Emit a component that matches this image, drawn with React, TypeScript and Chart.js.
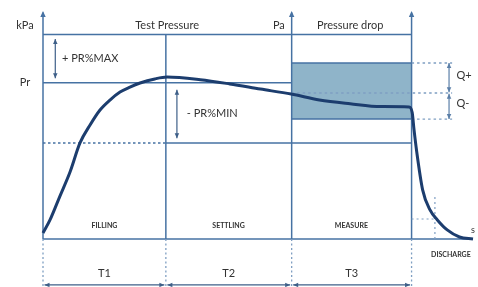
import React, { useEffect, useRef } from "react";
import { Chart, registerables } from "chart.js";

Chart.register(...registerables);

// Time axis (phase boundaries) and pressure levels
const phaseBounds = [0, 10, 20.24, 30, 35];
const phaseNames = ["FILLING", "SETTLING", "MEASURE", "DISCHARGE"];
const phaseTimes = ["T1", "T2", "T3"];
const maxLevel = 131; // Pr + PR%MAX
const prLevel = 100; // Pr
const minLevel = 61.5; // Pr - PR%MIN
const boxTop = 112.7; // Q+
const boxMid = 93.5;
const boxBottom = 76.8; // Q-

// Pressure curve
const curveTime = [0, 0.57, 1.38, 2.2, 3.01, 3.83, 4.64, 5.45, 6.27, 7.08, 7.9, 9.1, 10.1, 12.8, 15.2, 17.7, 20.2, 22.5, 25, 27.5, 29.8, 30.05, 30.2, 30.4, 30.9, 31.5, 32.1, 32.9, 33.9, 35];
const curvePressure = [3.8, 12.2, 27.5, 42.9, 61.5, 73, 82.6, 89, 94.1, 97.3, 99.9, 102.5, 103.7, 102, 99.3, 96, 92.8, 89, 86.6, 84.8, 84.6, 81, 70, 57, 31.5, 18.6, 12.2, 5.8, 1.3, 0];

const X_MAX = 35;
const Y_MAX = 146;

const LINE = "#4672a3";
const DOT = "#7f9fc2";
const CURVE = "#1c3d6e";
const BOX = "#8fb4c9";
const TEXT = "#333333";
const FONT = "Lato, 'Open Sans', sans-serif";

function arrowHead(ctx: CanvasRenderingContext2D, x: number, y: number, dx: number, dy: number, size: number) {
  const len = Math.hypot(dx, dy) || 1;
  const ux = dx / len, uy = dy / len;
  const px = -uy, py = ux;
  ctx.beginPath();
  ctx.moveTo(x, y);
  ctx.lineTo(x - ux * size + px * size * 0.45, y - uy * size + py * size * 0.45);
  ctx.lineTo(x - ux * size - px * size * 0.45, y - uy * size - py * size * 0.45);
  ctx.closePath();
  ctx.fill();
}

const diagramPlugin = {
  id: "diagram",
  beforeDatasetsDraw(chart: any) {
    const ctx: CanvasRenderingContext2D = chart.ctx;
    const xs = chart.scales.x, ys = chart.scales.y;
    const px = (v: number) => xs.getPixelForValue(v);
    const py = (v: number) => ys.getPixelForValue(v);
    const seg = (x1: number, y1: number, x2: number, y2: number, color: string, w: number, dash: number[] = []) => {
      ctx.save();
      ctx.strokeStyle = color;
      ctx.lineWidth = w;
      ctx.setLineDash(dash);
      ctx.beginPath();
      ctx.moveTo(px(x1), py(y1));
      ctx.lineTo(px(x2), py(y2));
      ctx.stroke();
      ctx.restore();
    };
    const [t0, t1, t2, t3, t4] = phaseBounds;
    // axes
    seg(t0, 0, t0, Y_MAX - 1, LINE, 1.5);
    seg(t0, 0, t4, 0, LINE, 1.5);
    // verticals
    seg(t1, 0, t1, maxLevel, LINE, 1.5);
    seg(t2, 0, t2, Y_MAX - 1, LINE, 1.5);
    seg(t3, 0, t3, Y_MAX - 1, LINE, 1.5);
    // horizontal levels
    seg(t0, maxLevel, t3, maxLevel, LINE, 1.5);
    seg(t0, prLevel, t2, prLevel, LINE, 1.5);
    seg(t0, minLevel, t1, minLevel, LINE, 1.5, [2.5, 2.5]);
    seg(t1, minLevel, t3, minLevel, LINE, 1.5);
    // Q dotted lines
    const qEnd = 33.3;
    seg(t2, boxMid, qEnd, boxMid, DOT, 1.3, [2.5, 3]);
    seg(t3, boxTop, qEnd, boxTop, DOT, 1.3, [2.5, 3]);
    seg(t3, boxBottom, qEnd, boxBottom, DOT, 1.3, [2.5, 3]);
    // discharge marks
    seg(31.9, 0, 31.9, 27, DOT, 1.2, [2, 3]);
    seg(t3, 12.8, 31.9, 12.8, DOT, 1.2, [2, 3]);
    // bottom dotted verticals
    for (const b of [t0, t1, t2, t3]) seg(b, 0, b, -31, DOT, 1.3, [2, 2.5]);

    // arrowheads on axes
    ctx.save();
    ctx.fillStyle = LINE;
    for (const b of [t0, t2, t3]) arrowHead(ctx, px(b), py(Y_MAX), 0, -1, 6);
    ctx.restore();
  },
  afterDatasetsDraw(chart: any) {
    const ctx: CanvasRenderingContext2D = chart.ctx;
    const xs = chart.scales.x, ys = chart.scales.y;
    const px = (v: number) => xs.getPixelForValue(v);
    const py = (v: number) => ys.getPixelForValue(v);
    const dbl = (x1: number, y1: number, x2: number, y2: number, color: string, gap = 0) => {
      const a = { x: px(x1), y: py(y1) }, b = { x: px(x2), y: py(y2) };
      const dx = b.x - a.x, dy = b.y - a.y;
      const l = Math.hypot(dx, dy);
      const ux = dx / l, uy = dy / l;
      const A = { x: a.x + ux * gap, y: a.y + uy * gap }, B = { x: b.x - ux * gap, y: b.y - uy * gap };
      ctx.save();
      ctx.strokeStyle = color;
      ctx.fillStyle = color;
      ctx.lineWidth = 1.2;
      ctx.beginPath();
      ctx.moveTo(A.x, A.y);
      ctx.lineTo(B.x, B.y);
      ctx.stroke();
      arrowHead(ctx, B.x, B.y, ux, uy, 5);
      arrowHead(ctx, A.x, A.y, -ux, -uy, 5);
      ctx.restore();
    };
    dbl(1, 128, 1, 103, "#3e5f88");
    dbl(10.9, 95.5, 10.9, 64.5, "#3e5f88");
    dbl(33.05, boxTop, 33.05, boxMid + 0.5, "#5b7fa8");
    dbl(33.05, boxMid - 0.5, 33.05, boxBottom, "#5b7fa8");
    for (let i = 0; i < 3; i++) dbl(phaseBounds[i], -29.4, phaseBounds[i + 1], -29.4, "#3e5f88", 1.5);

    const text = (s: string, x: number, y: number, size: number, align: CanvasTextAlign = "center", weight = "normal") => {
      ctx.save();
      ctx.fillStyle = TEXT;
      ctx.font = `${weight} ${size}px ${FONT}`;
      ctx.textAlign = align;
      ctx.textBaseline = "middle";
      ctx.fillText(s, px(x), py(y));
      ctx.restore();
    };
    text("kPa", -1.47, 137, 11);
    text("Pr", -1.47, prLevel, 11);
    text("Test Pressure", 10.1, 137, 11);
    text("Pa", 19.2, 137, 11);
    text("Pressure drop", 25, 137, 11);
    text("+ PR%MAX", 1.55, 115.3, 11, "left");
    text("- PR%MIN", 11.7, 80.7, 11, "left");
    text("Q+", 33.65, 104.5, 11, "left");
    text("Q-", 33.65, 86.5, 11, "left");
    const nameY = [8.3, 8.3, 8.3, -10.2];
    const nameX = [5, 15.1, 25.1, 33.2];
    phaseNames.forEach((n, i) => text(n, nameX[i], nameY[i], 7, "center", "bold"));
    phaseTimes.forEach((t, i) => text(t, (phaseBounds[i] + phaseBounds[i + 1]) / 2, -21.8, 11));
    text("s", 35, 5.8, 9);
  },
};

export default function App() {
  const ref = useRef<HTMLCanvasElement | null>(null);
  useEffect(() => {
    if (!ref.current) return;
    const chart = new Chart(ref.current, {
      type: "line",
      data: {
        datasets: [
          {
            data: curveTime.map((t, i) => ({ x: t, y: curvePressure[i] })),
            borderColor: CURVE,
            borderWidth: 3,
            pointRadius: 0,
            cubicInterpolationMode: "monotone",
            fill: false,
            clip: false as any,
          },
          {
            data: [{ x: phaseBounds[2], y: boxTop }, { x: phaseBounds[3], y: boxTop }],
            borderColor: LINE,
            borderWidth: 1.5,
            pointRadius: 0,
            backgroundColor: BOX,
            fill: "+1",
          },
          {
            data: [{ x: phaseBounds[2], y: boxBottom }, { x: phaseBounds[3], y: boxBottom }],
            borderColor: LINE,
            borderWidth: 1.5,
            pointRadius: 0,
            fill: false,
          },
        ],
      },
      options: {
        animation: false,
        responsive: false,
        maintainAspectRatio: false,
        layout: { padding: { left: 43, right: 5, top: 11, bottom: 48 } },
        scales: {
          x: { type: "linear", min: 0, max: X_MAX, display: false },
          y: { type: "linear", min: 0, max: Y_MAX, display: false },
        },
        plugins: {
          legend: { display: false },
          tooltip: { enabled: false },
          filler: { drawTime: "beforeDatasetsDraw" } as any,
        },
      },
      plugins: [diagramPlugin],
    });
    return () => chart.destroy();
  }, []);
  return (
    <div style={{ position: "fixed", left: 0, top: 0, width: 478, height: 287, background: "#fff" }}>
      <canvas ref={ref} width={478} height={287} style={{ width: 478, height: 287 }} />
    </div>
  );
}
